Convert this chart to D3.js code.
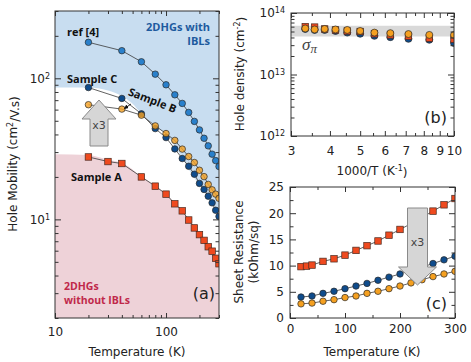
<!DOCTYPE html>
<html>
<head>
<meta charset="utf-8">
<script src="https://cdn.jsdelivr.net/npm/d3@7"></script>
<style>
  body { margin: 0; background: #fff; }
  text { font-family: "DejaVu Sans", Verdana, sans-serif; }
  .lbl { font-family: "Open Sans", sans-serif; font-weight: 700; font-size: 11px; }
</style>
</head>
<body>
<svg id="fig" width="471" height="362"></svg>
<script>
// ---- data ----
// (a) hole mobility vs temperature
const tempA = [20, 30, 40, 60, 80, 100, 120, 140, 160, 180, 200, 220, 240, 260, 280, 300]
const muA = [27.7, 25.7, 24.9, 20.0, 17.2, 15.1, 12.9, 11.5, 9.9, 8.7, 7.8, 7.1, 6.4, 5.95, 5.3, 4.85]
const tempStd = [20, 40, 60, 80, 100, 120, 140, 160, 180, 200, 220, 240, 260, 280, 300]
const muRef = [180, 157, 131, 107, 90, 76.4, 66.4, 57.3, 49.5, 43.1, 37.6, 33.2, 29.0, 26.1, 23.7]
const muC = [86, 72, 56, 44, 38, 31.6, 27, 23.8, 20.9, 18, 16.3, 14.6, 13.1, 11.6, 10.5]
const muB = [65, 60.5, 54.8, 46, 40.6, 36.3, 31.5, 27.9, 25.3, 22.3, 20.1, 17.7, 16.2, 15.1, 14.1]
// shaded zones of (a)
const blueEdgeT = [10, 20, 30, 40, 50, 58, 80, 100, 120, 142, 175, 216, 260, 300]
const blueEdgeMu = [86, 86, 82, 75, 66, 58, 46, 40, 33, 26.7, 20.2, 16.3, 13.2, 11.2]
const pinkEdgeT = [10, 20, 30, 40, 60, 80, 100, 120, 140, 160, 180, 200, 220, 240, 260, 280, 300]
const pinkEdgeMu = [29, 28.6, 26.5, 25.2, 20.2, 17.3, 15.2, 13, 11.6, 10, 8.8, 7.9, 7.15, 6.45, 6, 5.35, 4.9]

// (b) hole density vs 1000/T
const tempB = [300, 280, 260, 240, 220, 200, 180, 160, 140, 120, 100]
const nRed = [6.0e13, 5.9e13, 5.5e13, 5.3e13, 5.1e13, 5.0e13, 4.6e13, 4.4e13, 4.2e13, 3.9e13, 3.75e13]
const nBlue = [5.5e13, 5.3e13, 5.3e13, 5.1e13, 4.8e13, 4.6e13, 4.25e13, 4.05e13, 3.8e13, 3.67e13, 3.25e13]
const nOrange = [5.6e13, 5.4e13, 5.5e13, 5.4e13, 5.3e13, 5.1e13, 4.8e13, 4.7e13, 4.55e13, 4.4e13, 4.4e13]
const sigmaBand = [4.15e13, 6.2e13]

// (c) sheet resistance vs temperature
const tempC = [20, 30, 40, 60, 80, 100, 120, 140, 160, 180, 200, 220, 240, 260, 280, 300]
const rRed = [9.8, 9.9, 10.1, 10.8, 11.3, 12.0, 12.9, 13.8, 14.7, 15.8, 16.9, 18.0, 19.2, 20.4, 21.6, 22.8]
const rBlue = [4.0, 4.2, 4.7, 5.1, 5.6, 6.1, 6.6, 7.2, 7.8, 8.4, 9.1, 9.7, 10.4, 11.1, 11.8]
const rOrange = [2.7, 2.85, 3.2, 3.5, 3.9, 4.2, 4.7, 5.1, 5.6, 6.1, 6.7, 7.3, 7.9, 8.4, 8.9]

const RED = "#ef4a1f", NAVY = "#0f4c8c", REFBLUE = "#2a80cb", ORANGE = "#f5a020"
const svg = d3.select("#fig")

function logTicks(lo, hi) {
    let out = []
    for (let k = Math.floor(Math.log10(lo)); k <= Math.ceil(Math.log10(hi)); k++) {
        for (let m = 1; m < 10; m++) {
            const v = m * Math.pow(10, k)
            if (v >= lo * 0.999 && v <= hi * 1.001) out.push(v)
        }
    }
    return out
}

function supLabels(g) {
    g.selectAll(".tick text").each(function (d) {
        const t = d3.select(this)
        t.text("10")
        t.append("tspan").attr("dy", "-0.5em").attr("font-size", "8px")
            .text(Math.round(Math.log10(d)))
    })
}

// frame with inward ticks on all four sides
function frame(x, y, o) {
    const [x0, x1] = x.range(), [y0, y1] = y.range()
    const g = svg.append("g")
    const put = (axis, tr, vals, len, fmt, pad) => {
        const a = g.append("g").attr("transform", tr)
            .call(axis.tickValues(vals).tickSize(-len).tickPadding(pad || 0).tickFormat(fmt || ""))
        a.select(".domain").remove()
        a.selectAll("line").attr("stroke", "#333")
        a.selectAll("text").attr("font-size", 12).attr("fill", "#222")
            .style("font-family", '"DejaVu Sans", Verdana, sans-serif')
        return a
    }
    put(d3.axisBottom(x), `translate(0,${y0})`, o.xMajor, 5, o.xFmt, o.xPad)
    put(d3.axisBottom(x), `translate(0,${y0})`, o.xMinor, 3)
    put(d3.axisTop(x), `translate(0,${y1})`, o.xMajor, 5)
    put(d3.axisTop(x), `translate(0,${y1})`, o.xMinor, 3)
    const ly = put(d3.axisLeft(y), `translate(${x0},0)`, o.yMajor, 6, o.yFmt, o.yPad)
    put(d3.axisLeft(y), `translate(${x0},0)`, o.yMinor, 3.5)
    put(d3.axisRight(y), `translate(${x1},0)`, o.yMajor, 6)
    put(d3.axisRight(y), `translate(${x1},0)`, o.yMinor, 3.5)
    if (o.ySup) supLabels(ly)
    g.append("rect").attr("x", x0).attr("y", y1).attr("width", x1 - x0).attr("height", y0 - y1)
        .attr("fill", "none").attr("stroke", "#333").attr("stroke-width", 1)
    return g
}

function clipped(id, x, y) {
    const [x0, x1] = x.range(), [y0, y1] = y.range()
    svg.append("clipPath").attr("id", id).append("rect")
        .attr("x", x0).attr("y", y1).attr("width", x1 - x0).attr("height", y0 - y1)
    return svg.append("g").attr("clip-path", `url(#${id})`)
}

function series(g, xs, ys, x, y, o) {
    const pts = xs.map((v, i) => [x(v), y(ys[i])])
    if (o.line) {
        g.append("path").attr("d", d3.line()(pts)).attr("fill", "none")
            .attr("stroke", "#3a3a3a").attr("stroke-width", 0.8)
    }
    if (o.square) {
        g.selectAll(null).data(pts).join("rect")
            .attr("x", d => d[0] - o.size / 2).attr("y", d => d[1] - o.size / 2)
            .attr("width", o.size).attr("height", o.size)
            .attr("fill", o.fill).attr("stroke", "#4a2a20").attr("stroke-width", 0.7)
    } else {
        g.selectAll(null).data(pts).join("circle")
            .attr("cx", d => d[0]).attr("cy", d => d[1]).attr("r", o.size / 2)
            .attr("fill", o.fill).attr("fill-opacity", o.op || 1)
            .attr("stroke", "#2a2a2a").attr("stroke-width", 0.7)
    }
}

function blockArrow(cx, yTail, yHead, yTip, shaftW, headW, label, ly) {
    const pts = [[cx - shaftW, yTail], [cx - shaftW, yHead], [cx - headW, yHead], [cx, yTip],
        [cx + headW, yHead], [cx + shaftW, yHead], [cx + shaftW, yTail]]
    svg.append("path").attr("d", d3.line()(pts) + "Z")
        .attr("fill", "#d6d6d6").attr("stroke", "#8a8a8a").attr("stroke-width", 1)
    svg.append("text").attr("x", cx).attr("y", ly).attr("text-anchor", "middle")
        .attr("font-size", 11).attr("fill", "#444").text(label)
}

function label(x, y, t, color, anchor) {
    return svg.append("text").attr("class", "lbl").attr("x", x).attr("y", y)
        .attr("text-anchor", anchor || "start").style("fill", color).text(t)
}

// ================= panel (a) =================
const xA = d3.scaleLog().domain([10, 300]).range([55, 219])
const yA = d3.scaleLog().domain([2, 300]).range([318, 11])
const pA = clipped("clipA", xA, yA)

pA.append("path")
    .datum(blueEdgeT.map((t, i) => [t, blueEdgeMu[i]]))
    .attr("d", d3.area().x(d => xA(d[0])).y0(yA(300)).y1(d => yA(d[1])).curve(d3.curveMonotoneX))
    .attr("fill", "#c8ddf0")
pA.append("path")
    .datum(pinkEdgeT.map((t, i) => [t, pinkEdgeMu[i]]))
    .attr("d", d3.area().x(d => xA(d[0])).y0(yA(2)).y1(d => yA(d[1])).curve(d3.curveMonotoneX))
    .attr("fill", "#eed2d8")

series(pA, tempStd, muRef, xA, yA, {line: true, fill: REFBLUE, size: 6.5})
series(pA, tempA, muA, xA, yA, {line: true, square: true, fill: RED, size: 6.5})
series(pA, tempStd, muC, xA, yA, {line: true, fill: NAVY, size: 6.5})
series(pA, tempStd, muB, xA, yA, {line: true, fill: ORANGE, size: 6.5, op: 0.8})

frame(xA, yA, {
    xMajor: [10, 100], xMinor: logTicks(10, 300).filter(v => v !== 10 && v !== 100),
    xFmt: d3.format("d"), xPad: 9,
    yMajor: [10, 100], yMinor: logTicks(2, 300).filter(v => v !== 10 && v !== 100),
    yFmt: d => d, yPad: 5, ySup: true
})

blockArrow(99, 146, 119, 100, 9, 17, "x3", 129)

label(67, 36, "ref [4]", "#111")
label(67, 83, "Sample C", "#111")
label(71, 181, "Sample A", "#111")
label(0, 0, "Sample B", "#111", "middle").attr("x", null).attr("y", null)
    .attr("transform", "translate(151,104) rotate(21)")
svg.append("defs").append("marker").attr("id", "tip").attr("viewBox", "0 0 6 6")
    .attr("refX", 5).attr("refY", 3).attr("markerWidth", 5).attr("markerHeight", 5).attr("orient", "auto")
    .append("path").attr("d", "M0,0L6,3L0,6Z").attr("fill", "#111")
svg.append("line").attr("x1", 131).attr("y1", 104).attr("x2", 124.5).attr("y2", 108.5)
    .attr("stroke", "#111").attr("stroke-width", 0.9).attr("marker-end", "url(#tip)")

label(210, 31, "2DHGs with", "#1d5a9e", "end")
label(210, 45, "IBLs", "#1d5a9e", "end")
label(64, 290, "2DHGs", "#c0284a").style("font-size", "10.5px")
label(64, 304, "without IBLs", "#c0284a").style("font-size", "10.5px")
svg.append("text").attr("x", 215).attr("y", 299).attr("text-anchor", "end")
    .attr("font-size", 16).style("fill", "#222").text("(a)")

svg.append("text").attr("x", 137).attr("y", 356).attr("text-anchor", "middle")
    .attr("font-size", 12).style("fill", "#222").text("Temperature (K)")
const tA = svg.append("text").attr("transform", "translate(17,164) rotate(-90)")
    .attr("text-anchor", "middle").attr("font-size", 12).style("fill", "#222")
tA.append("tspan").text("Hole Mobility (cm")
tA.append("tspan").attr("dy", "-0.45em").attr("font-size", 8).text("2")
tA.append("tspan").attr("dy", "0.45em").text("/V.s)")

// ================= panel (b) =================
const xB = d3.scaleLog().domain([3, 10]).range([291, 454])
const yB = d3.scaleLog().domain([1e12, 1e14]).range([136, 13])
const pB = clipped("clipB", xB, yB)

pB.append("rect").attr("x", 291).attr("width", 163)
    .attr("y", yB(sigmaBand[1])).attr("height", yB(sigmaBand[0]) - yB(sigmaBand[1]))
    .attr("fill", "#d9d9d9")

const invT = tempB.map(t => 1000 / t)
series(pB, invT, nBlue, xB, yB, {fill: NAVY, size: 7})
series(pB, invT, nRed, xB, yB, {square: true, fill: RED, size: 6.5})
series(pB, invT, nOrange, xB, yB, {fill: ORANGE, size: 7})

frame(xB, yB, {
    xMajor: [3, 4, 5, 6, 7, 8, 9, 10], xMinor: [3.5, 4.5, 5.5, 6.5, 7.5, 8.5, 9.5],
    xFmt: d3.format("d"), xPad: 10,
    yMajor: [1e12, 1e13, 1e14], yMinor: logTicks(1e12, 1e14).filter(v => ![1e12, 1e13, 1e14].includes(v)),
    yFmt: d => d, yPad: 6, ySup: true
})

const sig = svg.append("text").attr("x", 302).attr("y", 50)
    .style("font-family", '"Liberation Serif", "DejaVu Serif", serif').attr("font-style", "italic")
    .attr("font-size", 17).style("fill", "#444")
sig.append("tspan").text("σ")
sig.append("tspan").attr("dy", 3).attr("font-size", 13).text("π")
svg.append("text").attr("x", 447).attr("y", 123).attr("text-anchor", "end")
    .attr("font-size", 16).style("fill", "#222").text("(b)")

const tBx = svg.append("text").attr("x", 372).attr("y", 175).attr("text-anchor", "middle")
    .attr("font-size", 12).style("fill", "#222")
tBx.append("tspan").text("1000/T (K")
tBx.append("tspan").attr("dy", "-0.45em").attr("font-size", 8).text("-1")
tBx.append("tspan").attr("dy", "0.45em").text(")")
const tBy = svg.append("text").attr("transform", "translate(244,74) rotate(-90)")
    .attr("text-anchor", "middle").attr("font-size", 12).style("fill", "#222")
tBy.append("tspan").text("Hole density (cm")
tBy.append("tspan").attr("dy", "-0.45em").attr("font-size", 8).text("-2")
tBy.append("tspan").attr("dy", "0.45em").text(")")

// ================= panel (c) =================
const xC = d3.scaleLinear().domain([0, 300]).range([290, 455])
const yC = d3.scaleLinear().domain([0, 25]).range([318, 187])
const pC = clipped("clipC", xC, yC)

series(pC, tempC, rRed, xC, yC, {line: true, square: true, fill: RED, size: 6.5})
series(pC, tempStd, rBlue, xC, yC, {line: true, fill: NAVY, size: 6.5})
series(pC, tempStd, rOrange, xC, yC, {line: true, fill: ORANGE, size: 6.5})

frame(xC, yC, {
    xMajor: [0, 100, 200, 300], xMinor: [50, 150, 250], xFmt: d3.format("d"), xPad: 6,
    yMajor: [0, 5, 10, 15, 20, 25], yMinor: [2.5, 7.5, 12.5, 17.5, 22.5], yFmt: d3.format("d"), yPad: 6
})

blockArrow(417.5, 208, 267, 285, 10, 19, "x3", 246)
svg.append("text").attr("x", 447).attr("y", 309).attr("text-anchor", "end")
    .attr("font-size", 16).style("fill", "#222").text("(c)")

svg.append("text").attr("x", 372).attr("y", 356).attr("text-anchor", "middle")
    .attr("font-size", 12).style("fill", "#222").text("Temperature (K)")
svg.append("text").attr("transform", "translate(243,252) rotate(-90)")
    .attr("text-anchor", "middle").attr("font-size", 12).style("fill", "#222").text("Sheet Resistance")
svg.append("text").attr("transform", "translate(258,252) rotate(-90)")
    .attr("text-anchor", "middle").attr("font-size", 12).style("fill", "#222").text("(kOhm/sq)")
</script>
</body>
</html>
